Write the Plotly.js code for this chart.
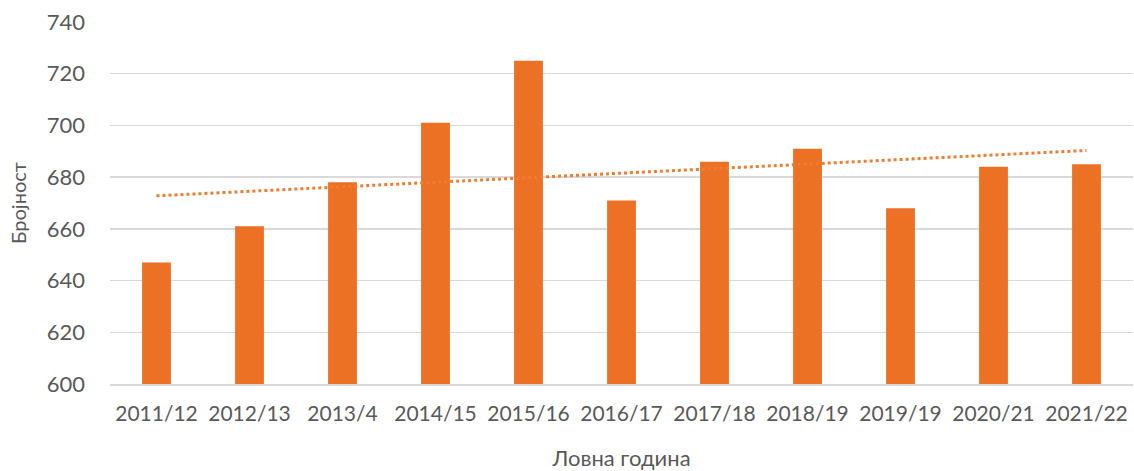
<!DOCTYPE html>
<html>
<head>
<meta charset="utf-8">
<script src="https://cdn.plot.ly/plotly-3.0.1.min.js"></script>
<style>html,body{margin:0;padding:0;background:#fff;}#chart{width:1134px;height:471px;}</style>
</head>
<body>
<div id="chart"></div>
<script>
const categories = ["2011/12","2012/13","2013/4","2014/15","2015/16","2016/17","2017/18","2018/19","2019/19","2020/21","2021/22"];
const counts = [647, 661, 678, 701, 725, 671, 686, 691, 668, 684, 685];
const yTicks = [600, 620, 640, 660, 680, 700, 720, 740];

// linear trendline (least squares) computed from data
const n = counts.length;
const xs = counts.map((_, i) => i + 1);
const mx = xs.reduce((a, b) => a + b, 0) / n;
const my = counts.reduce((a, b) => a + b, 0) / n;
let sxy = 0, sxx = 0;
for (let i = 0; i < n; i++) { sxy += (xs[i] - mx) * (counts[i] - my); sxx += (xs[i] - mx) ** 2; }
const slope = sxy / sxx, intercept = my - slope * mx;
const trend = xs.map(x => intercept + slope * x);

const font = "Lato, 'Open Sans', sans-serif";
const data = [
  { type: "bar", x: categories, y: counts, marker: { color: "#ED7124" }, hoverinfo: "x+y" },
  { type: "scatter", mode: "lines", x: categories, y: trend, line: { color: "#ED7D31", width: 3, dash: "dot" }, hoverinfo: "skip" }
];
const layout = {
  width: 1134, height: 471,
  margin: { l: 110, r: 1, t: 22, b: 87 },
  paper_bgcolor: "#fff", plot_bgcolor: "#fff",
  showlegend: false,
  bargap: 0.69,
  font: { family: font, color: "#595959" },
  xaxis: {
    type: "category", tickfont: { size: 21, color: "#595959" },
    showgrid: false, showline: true, linecolor: "#d9d9d9", linewidth: 1.5, ticks: "",
    ticklabelstandoff: 10,
    title: { text: "Ловна година", font: { size: 22, color: "#595959" }, standoff: 28 }
  },
  yaxis: {
    range: [600, 740], tickvals: yTicks, tickfont: { size: 22, color: "#595959" },
    showgrid: true, gridcolor: "#d9d9d9", gridwidth: 1.5, zeroline: false, showline: false, ticks: "",
    ticklabelstandoff: 24,
    title: { text: "Бројност", font: { size: 20, color: "#595959" }, standoff: 14 }
  }
};
Plotly.newPlot("chart", data, layout, { staticPlot: true });
</script>
</body>
</html>
